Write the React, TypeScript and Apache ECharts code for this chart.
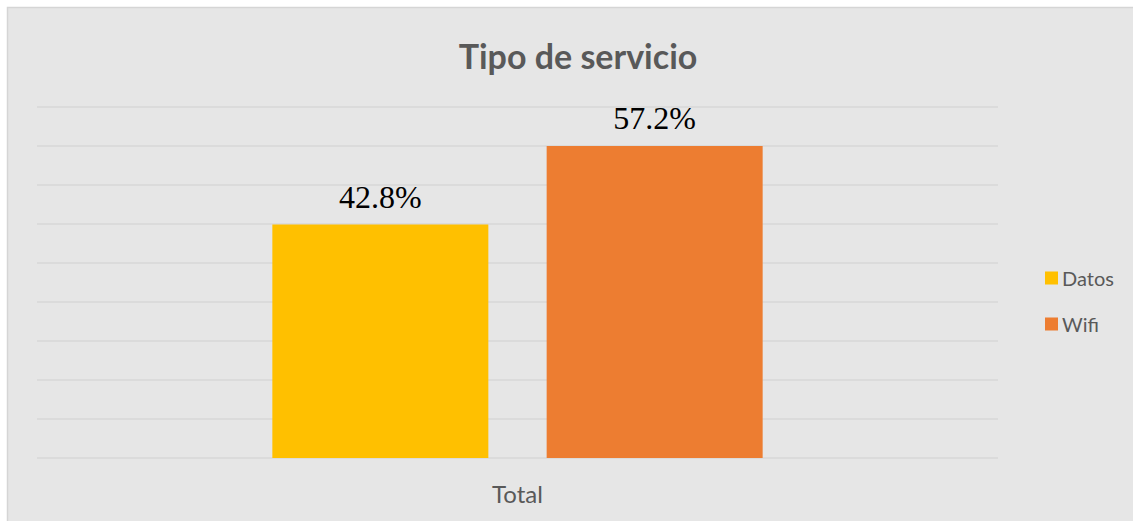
import React, { useEffect, useRef } from "react";
import * as echarts from "echarts";

const categories = ["Total"];
const seriesNames = ["Datos", "Wifi"];
const datos = [42.8];
const wifi = [57.2];
const colors = ["#FFC000", "#ED7D31"];
const axisMax = 64.35;
const axisInterval = 7.15;

export default function App() {
  const ref = useRef<HTMLDivElement>(null);
  useEffect(() => {
    const chart = echarts.init(ref.current!, null, { renderer: "svg" });
    const label = {
      show: true,
      position: "top",
      distance: 12,
      fontFamily: "Liberation Serif",
      fontSize: 32,
      color: "#000",
      formatter: (p: any) => p.value.toFixed(1) + "%",
    };
    chart.setOption({
      animation: false,
      backgroundColor: "#ffffff",
      graphic: [
        {
          type: "rect",
          z: -10,
          shape: { x: 7.5, y: 7.5, width: 1140, height: 530 },
          style: { fill: "#e6e6e6", stroke: "#d5d5d5", lineWidth: 1.5 },
        },
      ],
      title: {
        text: "Tipo de servicio",
        left: 573,
        top: 33,
        textAlign: "center",
        textStyle: { fontFamily: "Lato", fontWeight: "bold", fontSize: 34, color: "#595959" },
      },
      legend: {
        orient: "vertical",
        left: 1040,
        top: 263,
        itemWidth: 13,
        itemHeight: 13,
        itemGap: 26,
        icon: "rect",
        data: seriesNames,
        textStyle: { fontFamily: "Lato", fontSize: 20, color: "#595959", padding: [0, 0, 0, -1] },
      },
      grid: { left: 37, right: 135, top: 107, bottom: 63 },
      xAxis: {
        type: "category",
        data: categories,
        axisLine: { show: false },
        axisTick: { show: false },
        axisLabel: { fontFamily: "Lato", fontSize: 24, color: "#595959", margin: 23 },
      },
      yAxis: {
        type: "value",
        min: 0,
        max: axisMax,
        interval: axisInterval,
        axisLabel: { show: false },
        axisLine: { show: false },
        axisTick: { show: false },
        splitLine: { lineStyle: { color: "#d7d7d7", width: 1.5 } },
      },
      series: [
        { name: seriesNames[0], type: "bar", data: datos, barWidth: 216, barGap: "27%", itemStyle: { color: colors[0] }, label },
        { name: seriesNames[1], type: "bar", data: wifi, barWidth: 216, itemStyle: { color: colors[1] }, label },
      ],
    });
    return () => chart.dispose();
  }, []);
  return <div ref={ref} style={{ position: "fixed", left: 0, top: 0, width: 1133, height: 521 }} />;
}
